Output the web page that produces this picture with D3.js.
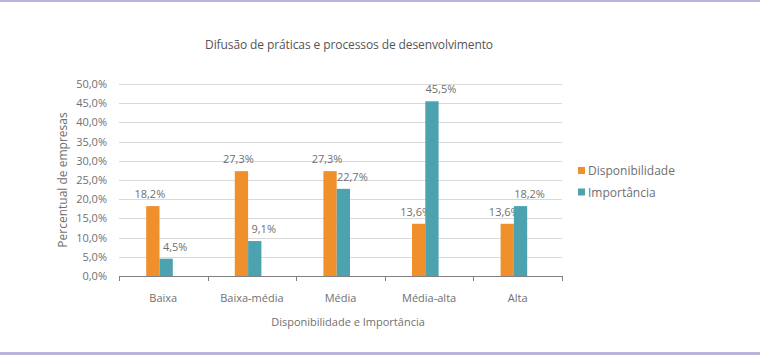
<!DOCTYPE html>
<html><head><meta charset="utf-8">
<script src="https://cdn.jsdelivr.net/npm/d3@7"></script>
<style>
html,body{margin:0;padding:0;background:#fff;}
svg{display:block;font-family:"Open Sans",sans-serif;}
</style></head>
<body>
<svg id="c" width="760" height="356"></svg>
<script>
const categories = ["Baixa","Baixa-média","Média","Média-alta","Alta"];
const seriesNames = ["Disponibilidade","Importância"];
const disponibilidade = [18.2, 27.3, 27.3, 13.6, 13.6];
const importancia = [4.5, 9.1, 22.7, 45.5, 18.2];
const yTicks = [0,5,10,15,20,25,30,35,40,45,50];
const colors = ["#F0902C","#4CA3AF"];
const title = "Difusão de práticas e processos de desenvolvimento";
const xTitle = "Disponibilidade e Importância";
const yTitle = "Percentual de empresas";

const svg = d3.select("#c");
const W = 760, H = 356;
const m = {left:119, right:562, top:84, bottom:276};

// frame lines
svg.append("rect").attr("x",0).attr("y",0).attr("width",W).attr("height",2).attr("fill","#B9B4DA");
svg.append("rect").attr("x",0).attr("y",352).attr("width",W).attr("height",3).attr("fill","#B9B4DA");

const x = d3.scaleBand().domain(categories).range([m.left, m.right]);
const xs = d3.scaleBand().domain(seriesNames).range([0, 26.6]);
const y = d3.scaleLinear().domain([0,50]).range([m.bottom, m.top]);
const fmt = v => d3.format(".1f")(v).replace(".", ",") + "%";

// gridlines
svg.append("g").selectAll("line").data(yTicks.filter(t=>t>0)).join("line")
  .attr("x1", m.left).attr("x2", m.right)
  .attr("y1", d=>Math.round(y(d))+0.5).attr("y2", d=>Math.round(y(d))+0.5)
  .attr("stroke","#D9D9D9").attr("stroke-width",1);

// y tick labels
svg.append("g").selectAll("text").data(yTicks).join("text")
  .attr("x", m.left-12).attr("y", d=>y(d)+4)
  .attr("text-anchor","end").attr("font-size",11).attr("fill","#707070")
  .text(d=>fmt(d));

// bars
const data = categories.map((c,i)=>({c, vals:[disponibilidade[i], importancia[i]]}));
const groupOffset = -3.8;
const g = svg.append("g");
data.forEach(d=>{
  const cx = x(d.c) + x.bandwidth()/2 + groupOffset - 13.3;
  d.vals.forEach((v,j)=>{
    g.append("rect")
      .attr("x", cx + xs(seriesNames[j]))
      .attr("y", y(v))
      .attr("width", xs.bandwidth())
      .attr("height", y(0)-y(v))
      .attr("fill", colors[j]);
    g.append("text")
      .attr("x", cx + xs(seriesNames[j]) + xs.bandwidth()/2 + (j===0 ? -3 : 9))
      .attr("y", y(v) - 8)
      .attr("text-anchor","middle").attr("font-size",11).attr("fill","#707070")
      .text(fmt(v));
  });
});

// x axis line and ticks
const ax = svg.append("g");
ax.append("line").attr("x1", m.left).attr("x2", m.right)
  .attr("y1", m.bottom+0.5).attr("y2", m.bottom+0.5).attr("stroke","#808080");
const bounds = categories.map(c=>x(c)).concat([m.right]);
ax.selectAll("line.t").data(bounds).join("line").attr("class","t")
  .attr("x1", d=>Math.round(d)+0.5).attr("x2", d=>Math.round(d)+0.5)
  .attr("y1", m.bottom).attr("y2", m.bottom+5).attr("stroke","#808080");
ax.selectAll("text").data(categories).join("text")
  .attr("x", d=>x(d)+x.bandwidth()/2).attr("y", 302)
  .attr("text-anchor","middle").attr("font-size",11).attr("fill","#707070")
  .text(d=>d);

// titles
svg.append("text").attr("x",349).attr("y",49).attr("text-anchor","middle")
  .attr("font-size",12).attr("fill","#555").attr("letter-spacing","-0.1").text(title);
svg.append("text").attr("x",348).attr("y",326).attr("text-anchor","middle")
  .attr("font-size",11).attr("fill","#707070").text(xTitle);
svg.append("text").attr("transform","translate(67,180) rotate(-90)").attr("text-anchor","middle")
  .attr("font-size",12).attr("fill","#707070").text(yTitle);

// legend
const lg = svg.append("g");
seriesNames.forEach((s,i)=>{
  lg.append("rect").attr("x",578).attr("y",167+i*21.5).attr("width",7).attr("height",7).attr("fill",colors[i]);
  lg.append("text").attr("x",588).attr("y",175+i*21.5).attr("font-size",12).attr("fill","#707070").text(s);
});
</script>
</body></html>
